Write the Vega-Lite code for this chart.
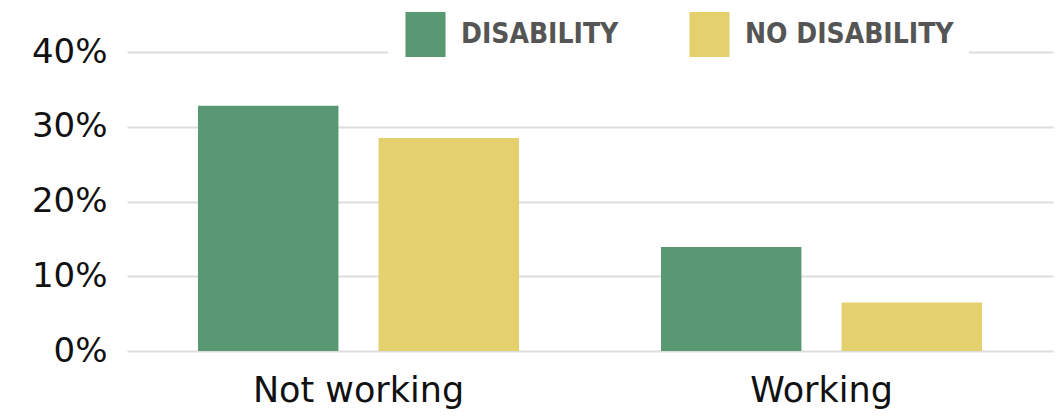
{
  "$schema": "https://vega.github.io/schema/vega-lite/v6.json",
  "width": 926,
  "height": 299,
  "autosize": {"type": "none"},
  "padding": {"left": 127, "top": 52, "right": 8, "bottom": 67},
  "background": "white",
  "data": {
    "values": [
      {"status": "Not working", "group": "DISABILITY", "pct": 32.8},
      {"status": "Not working", "group": "NO DISABILITY", "pct": 28.5},
      {"status": "Working", "group": "DISABILITY", "pct": 13.9},
      {"status": "Working", "group": "NO DISABILITY", "pct": 6.5}
    ]
  },
  "mark": {"type": "bar"},
  "encoding": {
    "x": {
      "field": "status",
      "type": "nominal",
      "sort": ["Not working", "Working"],
      "scale": {"paddingInner": 0.3066, "paddingOuter": 0.1533},
      "axis": {
        "title": null,
        "labelAngle": 0,
        "labelFont": "DejaVu Sans",
        "labelFontSize": 35,
        "labelColor": "#111",
        "labelPadding": 22,
        "labelLimit": 500,
        "ticks": false,
        "domain": false
      }
    },
    "xOffset": {
      "field": "group",
      "type": "nominal",
      "sort": ["DISABILITY", "NO DISABILITY"],
      "scale": {"paddingInner": 0.2222, "paddingOuter": 0}
    },
    "y": {
      "field": "pct",
      "type": "quantitative",
      "scale": {"domain": [0, 40]},
      "axis": {
        "title": null,
        "values": [0, 10, 20, 30, 40],
        "labelExpr": "datum.value + '%'",
        "labelFont": "DejaVu Sans",
        "labelFontSize": 34,
        "labelColor": "#111",
        "labelPadding": 20,
        "ticks": false,
        "domain": false,
        "gridColor": "#dddddd",
        "gridWidth": 2
      }
    },
    "color": {
      "field": "group",
      "type": "nominal",
      "sort": ["DISABILITY", "NO DISABILITY"],
      "scale": {"domain": ["DISABILITY", "NO DISABILITY"], "range": ["#589873", "#e5d06e"]},
      "legend": {
        "title": null,
        "orient": "none",
        "direction": "horizontal",
        "columns": 2,
        "legendX": 261,
        "legendY": -55,
        "padding": 15,
        "fillColor": "white",
        "symbolType": "M-0.89,-1H0.89V1H-0.89Z",
        "symbolSize": 2025,
        "symbolStrokeWidth": 0,
        "symbolOpacity": 1,
        "labelFont": "DejaVu Sans Condensed",
        "labelFontWeight": "bold",
        "labelFontSize": 28,
        "labelColor": "#555555",
        "labelOffset": 13,
        "columnPadding": 68,
        "labelLimit": 400
      }
    }
  },
  "config": {"view": {"stroke": null}}
}
